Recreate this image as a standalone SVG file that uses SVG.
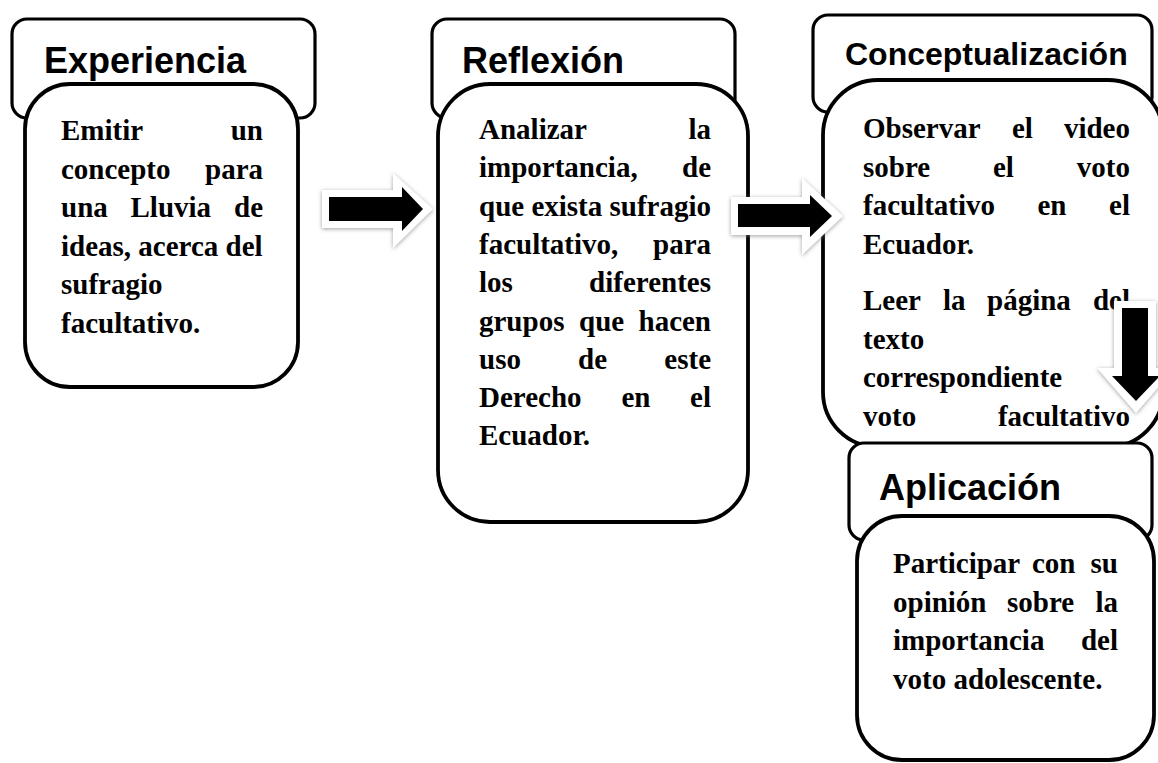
<svg xmlns="http://www.w3.org/2000/svg" width="1158" height="763" viewBox="0 0 1158 763">
<style>
.hdr{fill:#fff;stroke:#000;stroke-width:3.2}
.body{fill:#fff;stroke:#000;stroke-width:3.8}
.ttl{font-family:"Liberation Sans",Arial,sans-serif;font-weight:bold;font-size:36px;fill:#000}
.t{font-family:"Liberation Serif","Times New Roman",serif;font-weight:bold;font-size:29px;fill:#000}
.e{text-anchor:end}
.aw{fill:#fff;filter:url(#sh)}
.ab{fill:#000}
</style>
<defs>
<filter id="sh" x="-30%" y="-30%" width="160%" height="160%">
<feDropShadow dx="0" dy="1" stdDeviation="2" flood-color="#777" flood-opacity="0.7"/>
</filter>
</defs>
<rect width="1158" height="763" fill="#fff"/>

<g id="experiencia">
<rect class="hdr" x="12" y="19" width="303" height="99" rx="15"/>
<text class="ttl" x="44" y="73">Experiencia</text>
<rect class="body" x="25" y="84" width="273" height="303" rx="45"/>
<text class="t" x="61" y="140">Emitir</text><text class="t e" x="263" y="140">un</text>
<text class="t" x="61" y="178.5">concepto</text><text class="t e" x="263" y="178.5">para</text>
<text class="t" x="61" y="217">una</text><text class="t" x="130.5" y="217">Lluvia</text><text class="t e" x="263" y="217">de</text>
<text class="t" x="61" y="255.5">ideas, acerca del</text>
<text class="t" x="61" y="294">sufragio</text>
<text class="t" x="61" y="332.5">facultativo.</text>
</g>

<g id="reflexion">
<rect class="hdr" x="432" y="19" width="303" height="99" rx="15"/>
<text class="ttl" x="462" y="73">Reflexión</text>
<rect class="body" x="438" y="84" width="310" height="438" rx="52"/>
<text class="t" x="479" y="139">Analizar</text><text class="t e" x="711" y="139">la</text>
<text class="t" x="479" y="177.3">importancia,</text><text class="t e" x="711" y="177.3">de</text>
<text class="t" x="479" y="215.6">que exista sufragio</text>
<text class="t" x="479" y="253.9">facultativo,</text><text class="t e" x="711" y="253.9">para</text>
<text class="t" x="479" y="292.2">los</text><text class="t e" x="711" y="292.2">diferentes</text>
<text class="t" x="479" y="330.5">grupos</text><text class="t" x="579" y="330.5">que</text><text class="t e" x="711" y="330.5">hacen</text>
<text class="t" x="479" y="368.8">uso</text><text class="t" x="578" y="368.8">de</text><text class="t e" x="711" y="368.8">este</text>
<text class="t" x="479" y="407.1">Derecho</text><text class="t" x="621.5" y="407.1">en</text><text class="t e" x="711" y="407.1">el</text>
<text class="t" x="479" y="445.4">Ecuador.</text>
</g>

<g id="conceptualizacion">
<rect class="hdr" x="813" y="15" width="339" height="97" rx="15"/>
<text class="ttl" x="845" y="65" style="font-size:32px">Conceptualización</text>
<rect class="body" x="823" y="80" width="340" height="367" rx="55"/>
<text class="t" x="863" y="138">Observar</text><text class="t" x="1012" y="138">el</text><text class="t e" x="1130" y="138">video</text>
<text class="t" x="863" y="176.7">sobre</text><text class="t" x="993" y="176.7">el</text><text class="t e" x="1130" y="176.7">voto</text>
<text class="t" x="863" y="215.4">facultativo</text><text class="t" x="1037.5" y="215.4">en</text><text class="t e" x="1130" y="215.4">el</text>
<text class="t" x="863" y="254.1">Ecuador.</text>
<text class="t" x="863" y="310">Leer</text><text class="t" x="943" y="310">la</text><text class="t" x="987" y="310">página</text><text class="t e" x="1130" y="310">del</text>
<text class="t" x="863" y="348.7">texto</text>
<text class="t" x="863" y="387.4">correspondiente</text>
<text class="t" x="863" y="426.1">voto</text><text class="t e" x="1130" y="426.1">facultativo</text>
</g>

<g id="aplicacion">
<rect class="hdr" x="849" y="443" width="303" height="97" rx="15"/>
<text class="ttl" x="879" y="500">Aplicación</text>
<rect class="body" x="857" y="516" width="297" height="244" rx="45"/>
<text class="t" x="893" y="573">Participar</text><text class="t" x="1032" y="573">con</text><text class="t e" x="1118" y="573">su</text>
<text class="t" x="893" y="611.7">opinión</text><text class="t" x="1007" y="611.7">sobre</text><text class="t e" x="1118" y="611.7">la</text>
<text class="t" x="893" y="650.4">importancia</text><text class="t e" x="1118" y="650.4">del</text>
<text class="t" x="893" y="689.1">voto adolescente.</text>
</g>

<g id="connectors">
<polygon class="aw" points="322,190 393,190 393,173 433,209 393,248 393,228 322,228"/>
<polygon class="ab" points="329,197 402,197 402,187 423,209 402,231 402,221 329,221"/>
<polygon class="aw" points="731,197 802,197 802,178 843,216 802,255 802,235 731,235"/>
<polygon class="ab" points="738,204 810,204 810,195 832,216 810,237 810,227 738,227"/>
<polygon class="aw" points="1114,301 1156,301 1156,368 1175,368 1136,413 1097,368 1114,368"/>
<polygon class="ab" points="1122,308 1148,308 1148,376 1160,376 1136,401 1112,376 1122,376"/>
</g>
</svg>
